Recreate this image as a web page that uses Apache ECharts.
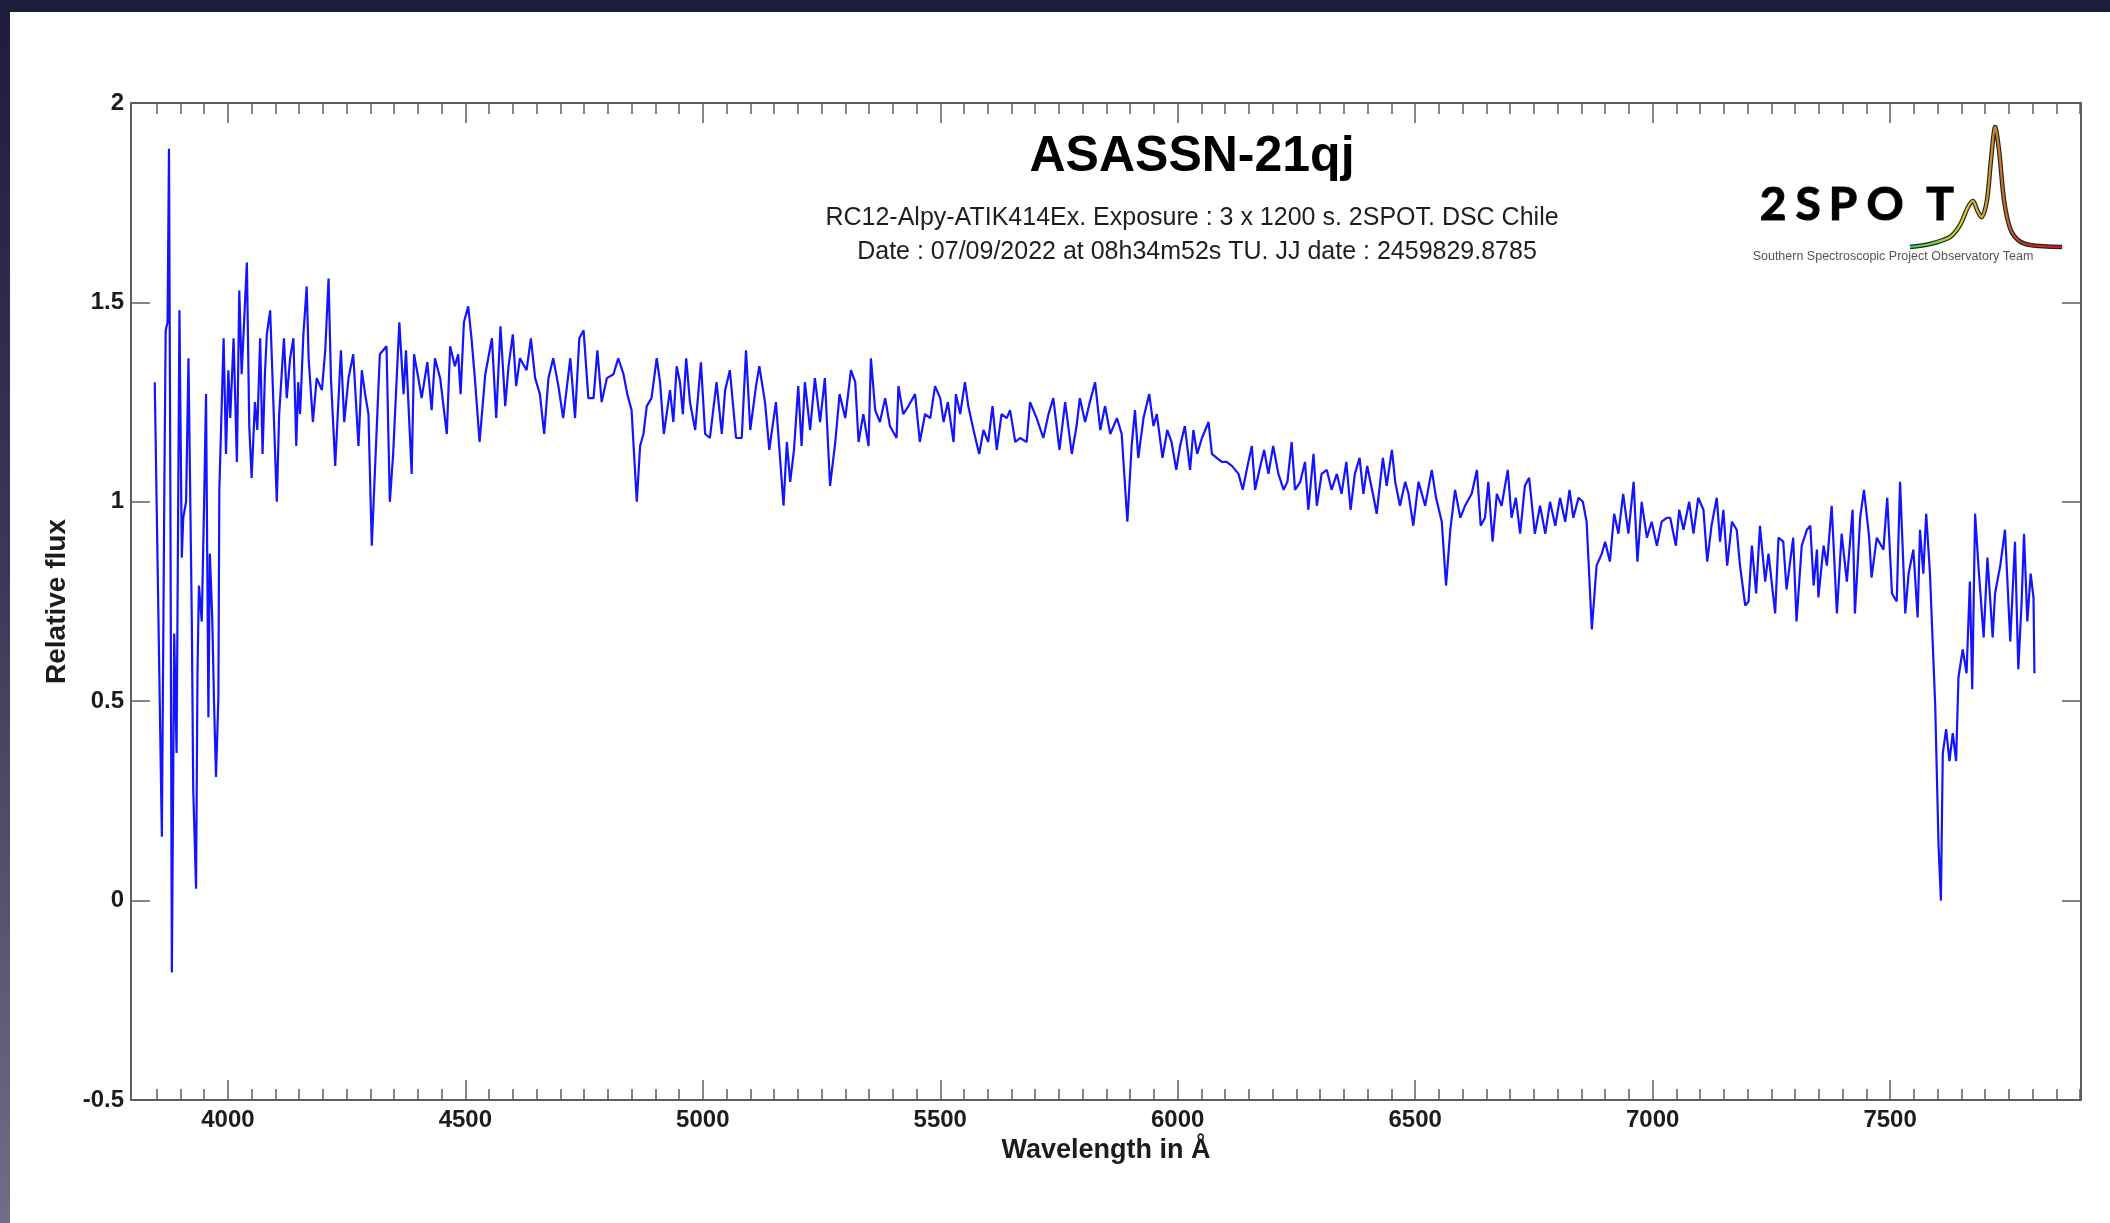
<!DOCTYPE html>
<html>
<head>
<meta charset="utf-8">
<script src="https://cdn.jsdelivr.net/npm/echarts@6/dist/echarts.min.js"></script>
<style>
html,body{margin:0;padding:0;background:#fff;}
#chart{width:2110px;height:1223px;}
</style>
</head>
<body>
<div id="chart"></div>
<script>
// ---- Data ----
const wavelength = [
3846,3861,3866,3869,3873,3876,3879,3882,3887,3892,3898,3903,3906,3912,3917,3924,3927,3933,3936,3939,3945,3950,3954,3959,3962,3967,3971,3975,3980,3982,
3991,3996,4001,4005,4012,4019,4024,4029,4040,4045,4050,4057,4062,4068,4073,4078,4082,4089,4094,4103,4108,4118,4124,4131,4138,4144,4148,4152,4159,4166,4170,4179,4187,4198,4205,4212,4217,4226,4238,4245,4254,4264,4275,4282,4289,4296,4303,4320,4334,4341,4348,4361,4370,4375,4387,4392,4401,4408,4420,4429,4436,4447,4461,4468,4478,4485,4490,4497,4506,4513,4520,4530,4542,4556,4565,4574,4584,4591,4600,4607,4615,4629,4638,4647,4657,4666,4675,4685,4696,4706,4721,4731,4740,4749,4759,4770,4778,4787,4798,4812,4822,4833,4841,4850,4861,4868,4875,4882,4892,4903,
4910,4918,4931,4938,4945,4952,4958,4965,4973,4984,4996,5005,5015,5029,5040,5047,5057,5070,5082,5091,5100,5112,5119,5131,5140,5154,5170,5177,5184,5192,5201,5208,5215,5226,5236,5247,5257,5268,5279,5288,5300,5312,5321,5328,5338,5349,5354,5363,5373,5384,5394,5408,5412,5422,5433,5447,5457,5468,5479,5489,5500,5507,5516,5528,5533,5542,5552,5559,5570,5582,5591,5601,5610,5619,5629,5640,5647,5658,5668,5682,5689,5703,5717,5728,5738,5751,5763,5777,5787,5794,5805,5815,5826,5837,5847,5858,5872,5882,5894,5903,5910,5917,5928,5940,5949,5956,5968,
5978,5987,5997,6005,6015,6026,6033,6041,6051,6065,6072,6082,6093,6103,6114,6128,6137,6147,6156,6163,6172,6182,6191,6201,6212,6223,6231,6240,6247,6258,6268,6275,6286,6293,6303,6314,6324,6335,6345,6355,6364,6373,6383,6391,6399,6411,6419,6432,6440,6451,6458,6468,6479,6486,6496,6507,6521,6535,6544,6556,6565,6574,6584,6595,6605,6619,6630,6638,6647,6654,6663,6672,6682,6695,6703,6712,6721,6731,6740,6752,6763,6774,6784,6795,6805,6816,6825,6833,6844,6853,6861,6872,6882,6893,6900,6910,6919,6928,6938,6949,6960,6968,6977,6988,6998,7009,7019,7030,
7037,7049,7056,7065,7077,7086,7096,7107,7115,7124,7135,7142,7149,7157,7167,7177,7184,7195,7202,7209,7218,7226,7237,7244,7258,7265,7275,7282,7296,7303,7314,7325,7332,7339,7346,7349,7360,7367,7377,7388,7398,7409,7421,7426,7437,7445,7456,7461,7472,7486,7494,7504,7514,7521,7532,7539,7549,7558,7563,7570,7576,7584,7595,7602,7607,7611,7618,7625,7632,7639,7644,7653,7661,7668,7673,7679,7686,7697,7705,7716,7721,7732,7742,7753,7763,7770,7777,7782,7789,7796,7802,7804
];
const flux = [
1.30,0.16,1.00,1.43,1.45,1.885,1.00,-0.18,0.67,0.37,1.48,0.86,0.96,1.00,1.36,0.71,0.28,0.03,0.57,0.79,0.70,1.00,1.27,0.46,0.87,0.71,0.49,0.31,0.51,1.03,
1.41,1.12,1.33,1.21,1.41,1.10,1.53,1.32,1.60,1.19,1.06,1.25,1.18,1.41,1.12,1.32,1.42,1.48,1.31,1.00,1.22,1.41,1.26,1.36,1.41,1.14,1.30,1.22,1.42,1.54,1.36,1.20,1.31,1.28,1.38,1.56,1.31,1.09,1.38,1.20,1.31,1.37,1.14,1.33,1.27,1.22,0.89,1.37,1.39,1.00,1.12,1.45,1.27,1.38,1.07,1.37,1.31,1.26,1.35,1.23,1.36,1.31,1.17,1.39,1.34,1.37,1.27,1.45,1.49,1.41,1.31,1.15,1.32,1.41,1.21,1.44,1.24,1.34,1.42,1.29,1.36,1.33,1.41,1.31,1.27,1.17,1.31,1.36,1.29,1.21,1.36,1.21,1.41,1.43,1.26,1.26,1.38,1.25,1.31,1.32,1.36,1.32,1.27,1.23,1.00,1.14,1.17,1.24,1.26,1.36,
1.30,1.17,1.28,1.20,1.34,1.30,1.22,1.36,1.25,1.18,1.35,1.17,1.16,1.30,1.17,1.28,1.33,1.16,1.16,1.38,1.18,1.29,1.34,1.25,1.13,1.25,0.99,1.15,1.05,1.13,1.29,1.14,1.30,1.18,1.31,1.20,1.31,1.04,1.15,1.27,1.21,1.33,1.30,1.15,1.22,1.14,1.36,1.23,1.20,1.26,1.19,1.16,1.29,1.22,1.24,1.27,1.15,1.22,1.21,1.29,1.26,1.20,1.25,1.15,1.27,1.22,1.30,1.24,1.18,1.12,1.18,1.15,1.24,1.13,1.22,1.21,1.23,1.15,1.16,1.15,1.25,1.21,1.16,1.22,1.26,1.13,1.25,1.12,1.19,1.26,1.20,1.25,1.30,1.18,1.24,1.17,1.21,1.17,0.95,1.14,1.23,1.11,1.21,1.27,1.19,1.22,1.11,
1.18,1.15,1.08,1.14,1.19,1.08,1.18,1.12,1.16,1.20,1.12,1.11,1.10,1.10,1.09,1.07,1.03,1.09,1.14,1.03,1.08,1.13,1.07,1.14,1.07,1.03,1.05,1.15,1.03,1.05,1.10,0.98,1.12,0.99,1.07,1.08,1.03,1.07,1.02,1.10,0.98,1.07,1.11,1.02,1.09,1.02,0.97,1.11,1.04,1.13,1.05,0.99,1.05,1.02,0.94,1.05,0.99,1.08,1.01,0.95,0.79,0.93,1.03,0.96,0.99,1.02,1.08,0.94,0.96,1.05,0.90,1.02,0.99,1.08,0.96,1.01,0.92,1.04,1.06,0.92,0.99,0.92,1.00,0.94,1.01,0.95,1.03,0.96,1.01,1.00,0.95,0.68,0.84,0.87,0.90,0.85,0.97,0.92,1.02,0.92,1.05,0.85,1.00,0.91,0.95,0.89,0.95,0.96,
0.96,0.89,0.98,0.93,1.00,0.92,1.01,0.98,0.85,0.94,1.01,0.90,0.98,0.84,0.95,0.93,0.84,0.74,0.75,0.89,0.77,0.94,0.80,0.87,0.72,0.91,0.90,0.78,0.91,0.70,0.89,0.93,0.94,0.79,0.88,0.76,0.89,0.84,0.99,0.72,0.92,0.80,0.98,0.72,0.96,1.03,0.91,0.81,0.91,0.88,1.01,0.77,0.75,1.05,0.72,0.82,0.88,0.71,0.93,0.82,0.97,0.82,0.49,0.14,0.00,0.37,0.43,0.35,0.42,0.35,0.56,0.63,0.57,0.80,0.53,0.97,0.84,0.66,0.86,0.66,0.77,0.84,0.93,0.65,0.90,0.58,0.75,0.92,0.70,0.82,0.76,0.57
];
const xMin = 3796, xMax = 7902;
const xMajorTicks = [4000, 4500, 5000, 5500, 6000, 6500, 7000, 7500];
const xMinorTicks = [];
for (let v = 3850; v < xMax; v += 50) { if (v % 500 !== 0) xMinorTicks.push(v); }
const yMin = -0.5, yMax = 2, yStep = 0.5;

const titleText = 'ASASSN-21qj';
const subLine1 = 'RC12-Alpy-ATIK414Ex. Exposure : 3 x 1200 s. 2SPOT. DSC Chile';
const subLine2 = 'Date : 07/09/2022 at 08h34m52s TU. JJ date : 2459829.8785';
const xName = 'Wavelength in Å';
const yName = 'Relative flux';
const logoLetters = ['2', 'S', 'P', 'O', 'T'];
const logoTagline = 'Southern Spectroscopic Project Observatory Team';

// ---- Chart ----
const FONT = '"Liberation Sans", Arial, Helvetica, sans-serif';
const AX = '#5e5e5e';
const LABEL = {fontSize: 24, fontWeight: 'bold', fontFamily: FONT, color: '#1c1c1c'};
const chart = echarts.init(document.getElementById('chart'), null, {renderer: 'canvas'});

function xAxisCfg(pos, major, withLine) {
  return {
    type: 'value', min: xMin, max: xMax, position: pos, gridIndex: 0,
    axisLine: {show: withLine, onZero: false, lineStyle: {color: AX, width: 2}},
    axisTick: {show: true, inside: true, length: major ? 20 : 11,
               customValues: major ? xMajorTicks : xMinorTicks,
               lineStyle: {color: AX, width: 1.5}},
    axisLabel: {show: false},
    splitLine: {show: false}
  };
}
const xBottom = xAxisCfg('bottom', true, true);
xBottom.axisLabel = Object.assign({show: true, customValues: xMajorTicks, margin: 8,
  formatter: v => String(v)}, LABEL);
xBottom.name = xName;
xBottom.nameLocation = 'middle';
xBottom.nameGap = 33;
xBottom.nameTextStyle = {fontSize: 27, fontWeight: 'bold', fontFamily: FONT, color: '#1c1c1c'};

function yAxisCfg(pos, labels) {
  const a = {
    type: 'value', min: yMin, max: yMax, interval: yStep, position: pos, gridIndex: 0,
    axisLine: {show: true, onZero: false, lineStyle: {color: AX, width: 2}},
    axisTick: {show: true, inside: true, length: 19, lineStyle: {color: AX, width: 1.5}},
    axisLabel: Object.assign({show: labels, margin: 7, formatter: v => String(v)}, LABEL),
    splitLine: {show: false}
  };
  if (labels) {
    a.name = yName; a.nameLocation = 'middle'; a.nameRotate = 90; a.nameGap = 58;
    a.nameTextStyle = {fontSize: 28, fontWeight: 'bold', fontFamily: FONT, color: '#1c1c1c'};
  }
  return a;
}

const letterX = [1773, 1808, 1843, 1885, 1940];
const letterFill = {type: 'linear', x: 0, y: 0, x2: 0, y2: 1,
  colorStops: [{offset: 0, color: '#b0b0b0'}, {offset: 0.5, color: '#6a6a6a'}, {offset: 1, color: '#2a2a2a'}]};
const logoChildren = logoLetters.map((ch, i) => ({
  type: 'text', x: letterX[i], y: 205,
  style: {text: ch, fontSize: 46, fontWeight: 'bold', fontFamily: 'Lato, sans-serif', align: 'center', verticalAlign: 'middle',
          fill: letterFill, stroke: '#1a1a1a', lineWidth: 1.2}
}));
const curvePts = [[1910,247],[1930,244],[1950,237],[1960,225],[1968,207],[1973,201],[1978,212],[1982,217],[1987,200],[1991,160],[1995,127],[1999,150],[2004,200],[2010,228],[2018,240],[2030,245],[2062,247]];
logoChildren.push(
  {type: 'polyline', shape: {smooth: 0.3, points: curvePts}, style: {stroke: '#222', lineWidth: 4.5, fill: null}},
  {type: 'polyline', shape: {smooth: 0.3, points: curvePts},
   style: {lineWidth: 2.2, fill: null, stroke: {type: 'linear', x: 0, y: 0, x2: 1, y2: 0,
     colorStops: [{offset: 0, color: '#22e060'}, {offset: 0.35, color: '#e0d020'}, {offset: 0.55, color: '#c8902a'}, {offset: 0.72, color: '#c83a20'}, {offset: 1, color: '#e01010'}]}}},
  {type: 'text', x: 1893, y: 257, style: {text: logoTagline, fontSize: 12.5, fontFamily: FONT, fill: '#555', align: 'center', verticalAlign: 'middle'}}
);

const option = {
  animation: false,
  backgroundColor: '#ffffff',
  grid: {left: 131, right: 29, top: 103, bottom: 123, containLabel: false, outerBoundsMode: 'none'},
  xAxis: [xBottom, xAxisCfg('bottom', false, false), xAxisCfg('top', true, true), xAxisCfg('top', false, false)],
  yAxis: [yAxisCfg('left', true), yAxisCfg('right', false)],
  series: [{
    type: 'line', xAxisIndex: 0, yAxisIndex: 0,
    data: wavelength.map((w, i) => [w, flux[i]]),
    showSymbol: false, symbol: 'none', silent: true,
    lineStyle: {color: '#1414ff', width: 2.2},
    z: 1
  }],
  graphic: [
    {type: 'rect', shape: {x: 0, y: 0, width: 2110, height: 12}, style: {fill: '#1d1d3b'}, silent: true},
    {type: 'rect', shape: {x: 0, y: 0, width: 10, height: 1223}, silent: true,
     style: {fill: {type: 'linear', x: 0, y: 0, x2: 0, y2: 1,
       colorStops: [{offset: 0, color: '#1d1d3b'}, {offset: 0.5, color: '#3c3c5a'}, {offset: 1, color: '#6e6e84'}]}}},
    {type: 'text', x: 1192, y: 157, silent: true,
     style: {text: titleText, fontSize: 50, fontWeight: 'bold', fontFamily: FONT, fill: '#000', align: 'center', verticalAlign: 'middle'}},
    {type: 'text', x: 1192, y: 218, silent: true,
     style: {text: subLine1, fontSize: 25, fontFamily: FONT, fill: '#1e1e1e', align: 'center', verticalAlign: 'middle'}},
    {type: 'text', x: 1197, y: 252, silent: true,
     style: {text: subLine2, fontSize: 25, fontFamily: FONT, fill: '#1e1e1e', align: 'center', verticalAlign: 'middle'}},
    {type: 'group', silent: true, children: logoChildren}
  ]
};
chart.setOption(option);
</script>
</body>
</html>
